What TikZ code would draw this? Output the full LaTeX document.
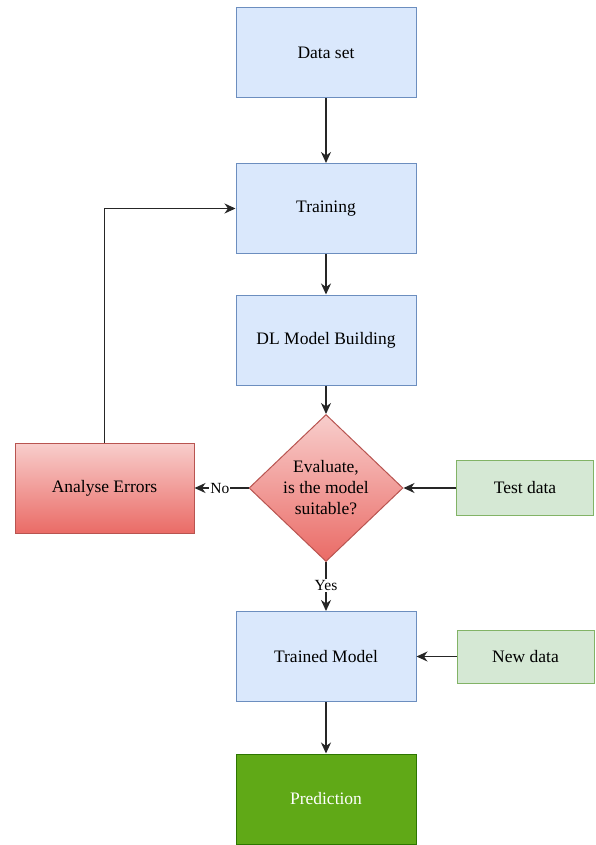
\documentclass[tikz,border=0pt]{standalone}
\usepackage{fontspec}
\setmainfont{Liberation Serif}
\usetikzlibrary{arrows.meta,shapes.geometric}

\definecolor{stepfill}{HTML}{DAE8FC}
\definecolor{stepline}{HTML}{6C8EBF}
\definecolor{inputfill}{HTML}{D5E8D4}
\definecolor{inputline}{HTML}{82B366}
\definecolor{errtop}{HTML}{F8CECC}
\definecolor{errbottom}{HTML}{EA6B66}
\definecolor{errline}{HTML}{B85450}
\definecolor{outfill}{HTML}{60A917}
\definecolor{outline}{HTML}{2D7600}

\tikzset{
	stepbox/.style={draw=stepline, fill=stepfill, line width=1pt, minimum width=180pt, minimum height=90pt, inner sep=0pt},
	inputbox/.style={draw=inputline, fill=inputfill, line width=1pt, minimum width=137pt, minimum height=55pt, inner sep=0pt},
	errbox/.style={draw=errline, top color=errtop, bottom color=errbottom, line width=1pt},
	flow/.style={line width=1.4pt, draw=black!85, -{Stealth[length=11pt,width=10pt,inset=3.5pt]}},
	edgelabel/.style={fill=white, inner sep=1pt, font=\fontsize{15.5}{17}\selectfont}
}

\begin{document}
\begin{tikzpicture}[x=1pt, y=-1pt, font=\fontsize{17.5}{21}\selectfont]
			%%%%% START %%%%%
			\useasboundingbox (0,0) rectangle (595,845);
			
			% main column
			\node[stepbox] (dataset) at (326, 53) {Data set};
			\node[stepbox] (training) at (326, 208.5) {Training};
			\node[stepbox] (building) at (326, 340) {DL Model Building};
			\node[errbox, diamond, minimum width=154pt, minimum height=147pt, inner sep=0pt, align=center] (evaluate) at (326, 488) {Evaluate,\\is the model\\suitable?};
			\node[stepbox] (trained) at (326, 656.5) {Trained Model};
			\node[stepbox, draw=outline, fill=outfill, text=white] (prediction) at (326, 799) {Prediction};
			
			% side boxes
			\node[errbox, minimum width=179pt, minimum height=90pt, inner sep=0pt] (analyse) at (104.5, 488) {Analyse Errors};
			\node[inputbox] (testdata) at (525, 488) {Test data};
			\node[inputbox, minimum height=53pt] (newdata) at (525.5, 656.5) {New data};
			
			% connectors
			\draw[flow] (dataset) -- (training);
			\draw[flow] (training) -- (building);
			\draw[flow] (building) -- (evaluate);
			\draw[flow] (testdata) -- (evaluate);
			\draw[flow] (evaluate) -- node[edgelabel, pos=0.53] {No} (analyse);
			\draw[flow] (evaluate) -- node[edgelabel, pos=0.48] {Yes} (trained);
			\draw[flow] (newdata) -- (trained);
			\draw[flow] (trained) -- (prediction);
			\draw[flow] (analyse.north) |- (training.west);
			
			%%%%% END %%%%%
\end{tikzpicture}
\end{document}
